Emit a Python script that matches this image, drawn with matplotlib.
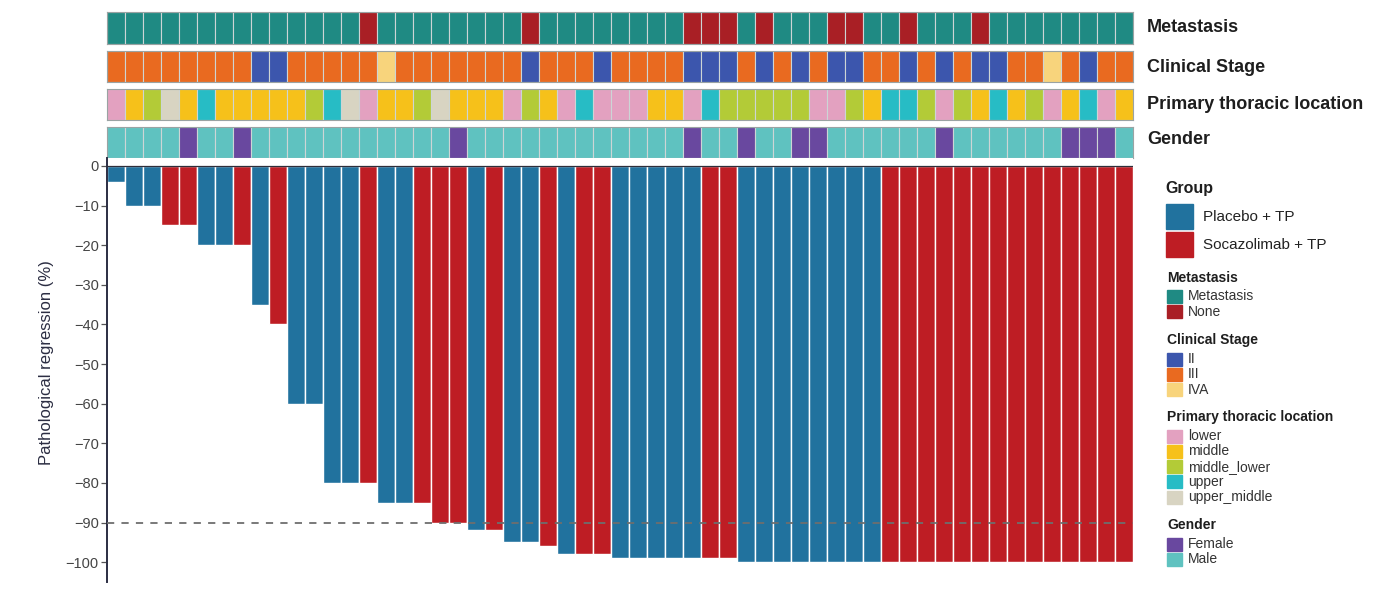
import matplotlib
matplotlib.use("Agg")
import matplotlib.pyplot as plt
from matplotlib.patches import Rectangle
import numpy as np

plt.rcParams['font.family'] = ['Liberation Sans', 'DejaVu Sans']

W, H = 1384, 604

# patients, left to right
regression = [-4, -10, -10, -15, -15, -20, -20, -20, -35, -40,
              -60, -60, -80, -80, -80, -85, -85, -85, -90, -90,
              -92, -92, -95, -95, -96, -98, -98, -98, -99, -99,
              -99, -99, -99, -99, -99, -100, -100, -100, -100, -100,
              -100, -100, -100, -100, -100, -100, -100, -100, -100, -100,
              -100, -100, -100, -100, -100, -100, -100]

group = ['P', 'P', 'P', 'S', 'S', 'P', 'P', 'S', 'P', 'S',
         'P', 'P', 'P', 'P', 'S', 'P', 'P', 'S', 'S', 'S',
         'P', 'S', 'P', 'P', 'S', 'P', 'S', 'S', 'P', 'P',
         'P', 'P', 'P', 'S', 'S', 'P', 'P', 'P', 'P', 'P',
         'P', 'P', 'P', 'S', 'S', 'S', 'S', 'S', 'S', 'S',
         'S', 'S', 'S', 'S', 'S', 'S', 'S']

metastasis = ['M', 'M', 'M', 'M', 'M', 'M', 'M', 'M', 'M', 'M',
              'M', 'M', 'M', 'M', 'N', 'M', 'M', 'M', 'M', 'M',
              'M', 'M', 'M', 'N', 'M', 'M', 'M', 'M', 'M', 'M',
              'M', 'M', 'N', 'N', 'N', 'M', 'N', 'M', 'M', 'M',
              'N', 'N', 'M', 'M', 'N', 'M', 'M', 'M', 'N', 'M',
              'M', 'M', 'M', 'M', 'M', 'M', 'M']

stage = ['III', 'III', 'III', 'III', 'III', 'III', 'III', 'III', 'II', 'II',
         'III', 'III', 'III', 'III', 'III', 'IVA', 'III', 'III', 'III', 'III',
         'III', 'III', 'III', 'II', 'III', 'III', 'III', 'II', 'III', 'III',
         'III', 'III', 'II', 'II', 'II', 'III', 'II', 'III', 'II', 'III',
         'II', 'II', 'III', 'III', 'II', 'III', 'II', 'III', 'II', 'II',
         'III', 'III', 'IVA', 'III', 'II', 'III', 'III']

location = ['L', 'M', 'ML', 'UM', 'M', 'U', 'M', 'M', 'M', 'M',
            'M', 'ML', 'U', 'UM', 'L', 'M', 'M', 'ML', 'UM', 'M',
            'M', 'M', 'L', 'ML', 'M', 'L', 'U', 'L', 'L', 'L',
            'M', 'M', 'L', 'U', 'ML', 'ML', 'ML', 'ML', 'ML', 'L',
            'L', 'ML', 'M', 'U', 'U', 'ML', 'L', 'ML', 'M', 'U',
            'M', 'ML', 'L', 'M', 'U', 'L', 'M']

gender = ['M', 'M', 'M', 'M', 'F', 'M', 'M', 'F', 'M', 'M',
          'M', 'M', 'M', 'M', 'M', 'M', 'M', 'M', 'M', 'F',
          'M', 'M', 'M', 'M', 'M', 'M', 'M', 'M', 'M', 'M',
          'M', 'M', 'F', 'M', 'M', 'F', 'M', 'M', 'F', 'F',
          'M', 'M', 'M', 'M', 'M', 'M', 'F', 'M', 'M', 'M',
          'M', 'M', 'M', 'F', 'F', 'F', 'M']

group_pal = {'P': ('Placebo + TP', '#21729e'), 'S': ('Socazolimab + TP', '#be1d24')}
met_pal = {'M': ('Metastasis', '#1f8a83'), 'N': ('None', '#a91f25')}
stage_pal = {'II': ('II', '#3c56ad'), 'III': ('III', '#e96a20'), 'IVA': ('IVA', '#f8d47c')}
loc_pal = {'L': ('lower', '#e3a1c0'), 'M': ('middle', '#f6c11a'), 'ML': ('middle_lower', '#b3cb37'),
           'U': ('upper', '#27bcc5'), 'UM': ('upper_middle', '#d8d4c2')}
gender_pal = {'F': ('Female', '#69489f'), 'M': ('Male', '#5fc2c0')}


def px_axes(fig, x0, y0, x1, y1):
    return fig.add_axes([x0 / W, 1 - y1 / H, (x1 - x0) / W, (y1 - y0) / H])


def main():
    fig = plt.figure(figsize=(W / 100, H / 100), dpi=100)
    fig.patch.set_facecolor('white')
    x = np.arange(len(regression))

    # annotation tracks
    tracks = [('Metastasis', metastasis, met_pal, 12, 44, 28),
              ('Clinical Stage', stage, stage_pal, 50.5, 82, 67),
              ('Primary thoracic location', location, loc_pal, 88.5, 120, 105),
              ('Gender', gender, gender_pal, 126.5, 158, 139)]
    for name, values, pal, top, bot, ty in tracks:
        ax = px_axes(fig, 107, top, 1133, bot)
        ax.bar(x, 1, width=1, color=[pal[v][1] for v in values],
               edgecolor='#cdd5d5', linewidth=0.8)
        ax.set_xlim(-0.5, len(x) - 0.5)
        ax.set_ylim(0, 1)
        ax.set_xticks([])
        ax.set_yticks([])
        for s in ax.spines.values():
            s.set_color('#9aa3a3')
            s.set_linewidth(0.8)
        fig.text(1147 / W, 1 - ty / H, name, fontsize=13, fontweight='bold',
                 color='#1e1e1e', va='center', ha='left')

    # waterfall
    ax = px_axes(fig, 107, 158, 1133, 582)
    ax.bar(x, regression, width=1, color=[group_pal[g][1] for g in group],
           edgecolor='white', linewidth=1.0, zorder=2)
    ax.axhline(0, color='#2e2e3a', lw=0.9, zorder=3)
    ax.axhline(-90, color='#6e6e6e', lw=1.3, ls=(0, (4, 4)), zorder=4)
    ax.set_xlim(-0.5, len(x) - 0.5)
    ax.set_ylim(-105, 2)
    ax.set_yticks(np.arange(0, -101, -10))
    ax.set_xticks([])
    for s in ['top', 'right', 'bottom']:
        ax.spines[s].set_visible(False)
    ax.spines['left'].set_color('#2b2d42')
    ax.spines['left'].set_linewidth(1.4)
    ax.tick_params(axis='y', length=4, width=0.9, color='#555555',
                   labelsize=10.5, labelcolor='#444444', pad=2)
    fig.text(47 / W, 1 - 363 / H, 'Pathological regression (%)', rotation=90,
             fontsize=12, color='#2b2d42', ha='center', va='center')

    # legend
    lax = fig.add_axes([0, 0, 1, 1])
    lax.set_xlim(0, W)
    lax.set_ylim(H, 0)
    lax.axis('off')
    lax.text(1165, 188, 'Group', fontsize=11.5, fontweight='bold', color='#1e1e1e', va='center')
    for k, key in enumerate(['P', 'S']):
        label, col = group_pal[key]
        lax.add_patch(Rectangle((1166, 204 + 28 * k), 27, 25, color=col))
        lax.text(1203, 217 + 28 * k, label, fontsize=11, color='#222222', va='center')

    sections = [('Metastasis', 277.5, met_pal),
                ('Clinical Stage', 340, stage_pal),
                ('Primary thoracic location', 417, loc_pal),
                ('Gender', 525, gender_pal)]
    for title, ty, pal in sections:
        lax.text(1167, ty, title, fontsize=10, fontweight='bold', color='#1e1e1e', va='center')
        for k, (label, col) in enumerate(pal.values()):
            cy = ty + 19 + 15.3 * k
            lax.add_patch(Rectangle((1167, cy - 6.5), 15, 13, color=col))
            lax.text(1188, cy, label, fontsize=10, color='#333333', va='center')

    plt.savefig('out.png', dpi=100, facecolor='white')


if __name__ == '__main__':
    main()
